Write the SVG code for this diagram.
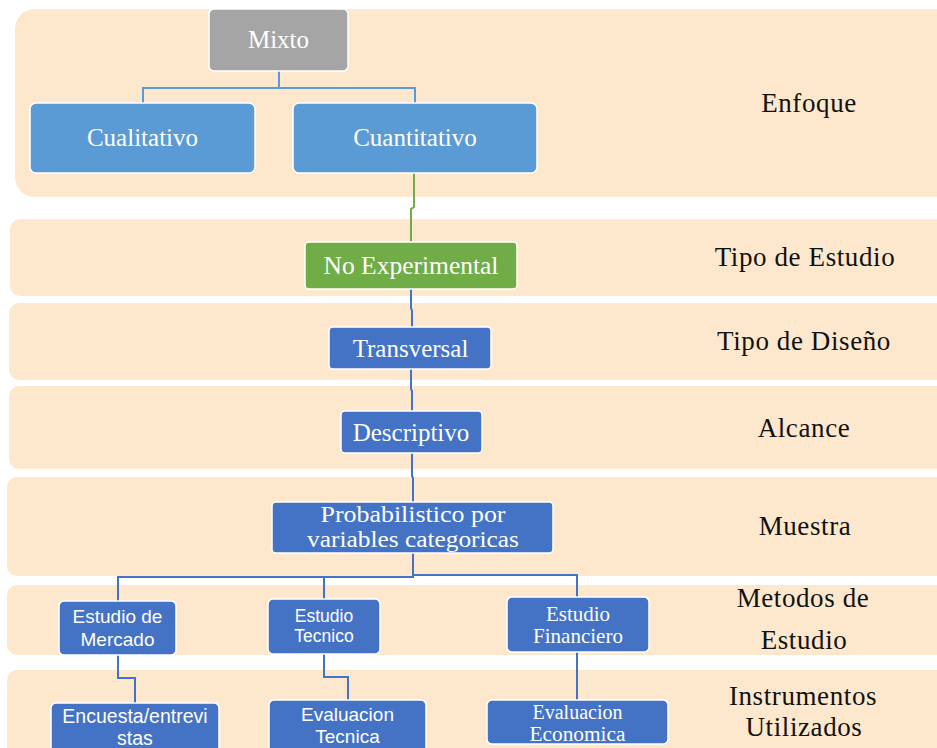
<svg xmlns="http://www.w3.org/2000/svg" width="937" height="748" viewBox="0 0 937 748">
  <style>
    .band { fill: #FDE8CD; }
    .node rect { stroke: #ffffff; stroke-width: 1.5; }
    .gray rect { fill: #A5A5A5; }
    .lblue rect { fill: #5B9BD5; }
    .green rect { fill: #70AD47; }
    .blue rect { fill: #4472C4; }
    .serif { font-family: "Liberation Serif", "Times New Roman", serif; fill: #ffffff; text-anchor: middle; }
    .sans { font-family: "Liberation Sans", Arial, sans-serif; fill: #ffffff; text-anchor: middle; }
    .lbl { font-family: "Liberation Serif", "Times New Roman", serif; font-size: 27px; fill: #111111; text-anchor: middle; letter-spacing: 0.6px; }
    .conn path { fill: none; stroke-width: 2; }
    .c-lb { stroke: #5B9BD5; }
    .c-gr { stroke: #70AD47; }
    .c-bl { stroke: #4472C4; }
  </style>

  <!-- level bands -->
  <g id="bands">
    <rect class="band" x="15" y="9" width="942" height="188" rx="20"/>
    <rect class="band" x="10" y="219" width="947" height="77" rx="10"/>
    <rect class="band" x="9" y="303" width="948" height="77" rx="10"/>
    <rect class="band" x="9" y="386" width="948" height="83" rx="10"/>
    <rect class="band" x="7" y="477" width="950" height="99" rx="10"/>
    <rect class="band" x="7" y="585" width="950" height="70" rx="10"/>
    <rect class="band" x="7" y="670" width="950" height="100" rx="10"/>
  </g>

  <!-- level labels -->
  <g id="labels">
    <text class="lbl" x="809" y="112">Enfoque</text>
    <text class="lbl" x="805" y="266">Tipo de Estudio</text>
    <text class="lbl" x="804" y="350" letter-spacing="0.8">Tipo de Diseño</text>
    <text class="lbl" x="804" y="437">Alcance</text>
    <text class="lbl" x="805" y="535">Muestra</text>
    <text class="lbl" x="803" y="607">Metodos de</text>
    <text class="lbl" x="804" y="649">Estudio</text>
    <text class="lbl" x="803" y="705">Instrumentos</text>
    <text class="lbl" x="804" y="736">Utilizados</text>
  </g>

  <!-- connectors -->
  <g id="connectors" class="conn">
    <path class="c-lb" d="M279 71 V88 M143 103 V88 H415 V103"/>
    <path class="c-gr" d="M414 173 V207 L411 209 V242"/>
    <path class="c-bl" d="M411 289 V308 L412 311 V327"/>
    <path class="c-bl" d="M411 369 V389 L412 391 V411"/>
    <path class="c-bl" d="M412 453 V476 L413 478 V502"/>
    <path class="c-bl" d="M413 553 V577 H118 V601"/>
    <path class="c-bl" d="M413 575 H577 V597"/>
    <path class="c-bl" d="M324 577 V599"/>
    <path class="c-bl" d="M118 655 V678 H135 V703"/>
    <path class="c-bl" d="M324 654 V677 H348 V700"/>
    <path class="c-bl" d="M577 652 V700"/>
  </g>

  <!-- nodes -->
  <g id="mixto" class="node gray">
    <rect x="209" y="9" width="139" height="62" rx="5"/>
    <text class="serif" x="278.5" y="48" font-size="25">Mixto</text>
  </g>
  <g id="cualitativo" class="node lblue">
    <rect x="30" y="103" width="225" height="70" rx="6"/>
    <text class="serif" x="142.5" y="146" font-size="25">Cualitativo</text>
  </g>
  <g id="cuantitativo" class="node lblue">
    <rect x="293" y="103" width="244" height="70" rx="6"/>
    <text class="serif" x="415" y="146" font-size="25">Cuantitativo</text>
  </g>
  <g id="no-experimental" class="node green">
    <rect x="305" y="242" width="212" height="47" rx="4"/>
    <text class="serif" x="411" y="274" font-size="25.5">No Experimental</text>
  </g>
  <g id="transversal" class="node blue">
    <rect x="329" y="327" width="162" height="42" rx="4"/>
    <text class="serif" x="410.5" y="357" font-size="25">Transversal</text>
  </g>
  <g id="descriptivo" class="node blue">
    <rect x="341" y="411" width="141" height="42" rx="4"/>
    <text class="serif" x="411" y="441" font-size="25">Descriptivo</text>
  </g>
  <g id="probabilistico" class="node blue">
    <rect x="272" y="502" width="281" height="51" rx="4"/>
    <text class="serif" x="413" y="522" font-size="23" textLength="185" lengthAdjust="spacingAndGlyphs">Probabilistico por</text>
    <text class="serif" x="413" y="547" font-size="23" textLength="212" lengthAdjust="spacingAndGlyphs">variables categoricas</text>
  </g>
  <g id="estudio-mercado" class="node blue">
    <rect x="59" y="601" width="117" height="54" rx="5"/>
    <text class="sans" x="117.5" y="623" font-size="19">Estudio de</text>
    <text class="sans" x="117.5" y="646" font-size="19">Mercado</text>
  </g>
  <g id="estudio-tecnico" class="node blue">
    <rect x="268" y="599" width="112" height="55" rx="5"/>
    <text class="sans" x="324" y="622" font-size="17.5">Estudio</text>
    <text class="sans" x="324" y="642" font-size="17.5">Tecnico</text>
  </g>
  <g id="estudio-financiero" class="node blue">
    <rect x="507" y="597" width="142" height="55" rx="5"/>
    <text class="serif" x="578" y="621" font-size="21">Estudio</text>
    <text class="serif" x="578" y="643" font-size="21">Financiero</text>
  </g>
  <g id="encuesta" class="node blue">
    <rect x="51" y="703" width="168" height="60" rx="5"/>
    <text class="sans" x="135" y="723" font-size="19.5">Encuesta/entrevi</text>
    <text class="sans" x="135" y="745" font-size="19.5">stas</text>
  </g>
  <g id="evaluacion-tecnica" class="node blue">
    <rect x="269" y="700" width="157" height="60" rx="5"/>
    <text class="sans" x="347.5" y="721" font-size="19">Evaluacion</text>
    <text class="sans" x="347.5" y="743" font-size="19">Tecnica</text>
  </g>
  <g id="evaluacion-economica" class="node blue">
    <rect x="487" y="700" width="181" height="44" rx="5"/>
    <text class="serif" x="577.5" y="719" font-size="20" textLength="90" lengthAdjust="spacingAndGlyphs">Evaluacion</text>
    <text class="serif" x="577.5" y="741" font-size="20" textLength="96" lengthAdjust="spacingAndGlyphs">Economica</text>
  </g>
</svg>
